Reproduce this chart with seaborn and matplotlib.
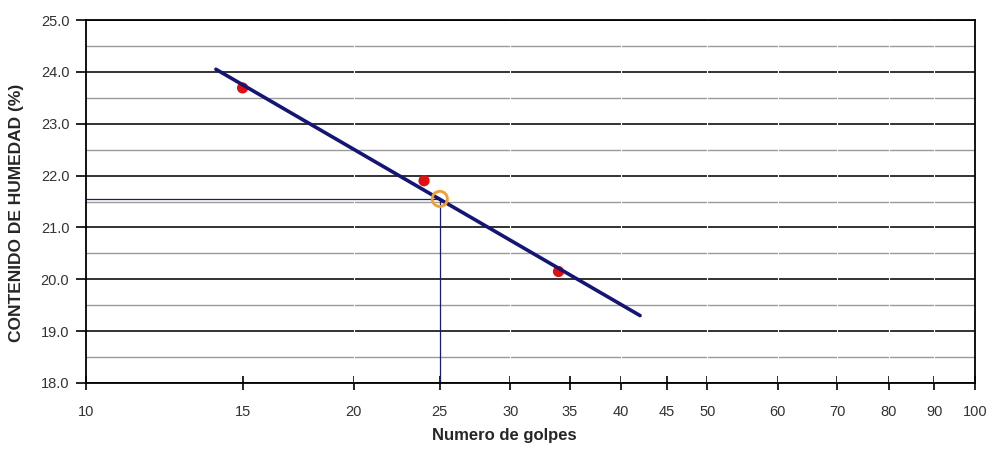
import matplotlib
matplotlib.use("Agg")
import matplotlib.pyplot as plt
import seaborn as sns
import numpy as np
import pandas as pd
from matplotlib.ticker import FixedLocator, FixedFormatter, NullLocator, FormatStrFormatter

# Data
golpes = [15, 24, 34]
humedad = [23.69, 21.90, 20.15]
fit_x = [14, 42]
fit_y = [24.05, 19.30]
ll_x = [25]
ll_y = [21.55]
xticks = [10, 15, 20, 25, 30, 35, 40, 45, 50, 60, 70, 80, 90, 100]
yticks = [18.0, 19.0, 20.0, 21.0, 22.0, 23.0, 24.0, 25.0]
yminor = [18.5, 19.5, 20.5, 21.5, 22.5, 23.5, 24.5]

sns.set_style("white")
plt.rcParams['font.family'] = ['Liberation Sans', 'DejaVu Sans']

fig = plt.figure(figsize=(9.92, 4.57), dpi=100)
ax = fig.add_axes([86/992, 1 - 383/457, (975-86)/992, (383-20)/457])
ax.set_xscale('log')
ax.set_xlim(10, 100)
ax.set_ylim(18, 25)

# gridlines
for y in yminor:
    ax.axhline(y, color='#9a9a9a', lw=1.0, zorder=1)
for y in yticks:
    ax.axhline(y, color='#222222', lw=1.3, zorder=1)
for x in [20, 30, 40, 50, 60, 70, 80, 90]:
    ax.axvline(x, color='white', lw=0.8, zorder=1.5)

# reference lines at 25 blows
ax.plot([10, ll_x[0]], [ll_y[0], ll_y[0]], color='#1a1a70', lw=0.9, zorder=2)
ax.plot([ll_x[0], ll_x[0]], [18, ll_y[0]], color='#1a1a70', lw=0.9, zorder=2)

df = pd.DataFrame({'g': golpes, 'h': humedad})
sns.scatterplot(data=df, x='g', y='h', ax=ax, color='#e01010', s=65,
                edgecolor='none', zorder=3)
fit = pd.DataFrame({'x': fit_x, 'y': fit_y})
sns.lineplot(data=fit, x='x', y='y', ax=ax, color='#151575', lw=2.6, zorder=4)
ax.scatter(ll_x, ll_y, s=120, facecolors='none', edgecolors='#f0a030',
           linewidths=2.0, zorder=5)

ax.xaxis.set_major_locator(FixedLocator(xticks))
ax.xaxis.set_major_formatter(FixedFormatter([str(t) for t in xticks]))
ax.xaxis.set_minor_locator(NullLocator())
ax.yaxis.set_major_locator(FixedLocator(yticks))
ax.yaxis.set_major_formatter(FormatStrFormatter('%.1f'))

ax.tick_params(axis='x', direction='inout', length=10, width=1.2, color='black',
               labelsize=10.5, pad=11, labelcolor='#333333')
ax.tick_params(axis='y', direction='out', length=7, width=1.2, color='black',
               labelsize=10.5, pad=5, labelcolor='#333333')
ax.tick_params(which='both', bottom=True, left=True)

for s in ax.spines.values():
    s.set_color('black')
    s.set_linewidth(1.3)
    s.set_visible(True)

ax.set_xlabel('Numero de golpes', fontsize=12, fontweight='bold')
ax.set_ylabel('CONTENIDO DE HUMEDAD (%)', fontsize=12.5, fontweight='bold')
ax.xaxis.set_label_coords(0.47, -0.125)
ax.yaxis.set_label_coords(-0.07, 0.47)

fig.savefig('out.png', dpi=100)
